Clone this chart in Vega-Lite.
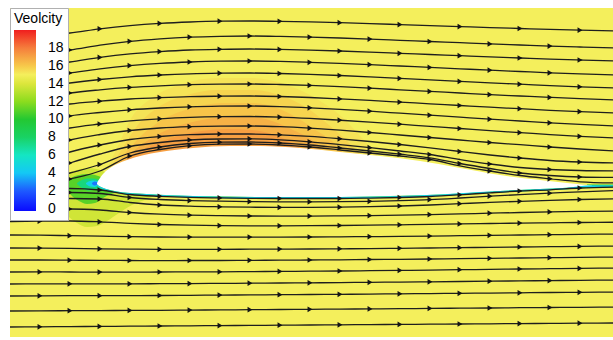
{
"$schema":"https://vega.github.io/schema/vega-lite/v6.json",
"width":603,"height":329,
"padding":{"left":10,"top":8,"right":0,"bottom":3},
"autosize":{"type":"none"},
"background":"white",
"config":{"view":{"stroke":null}},
"datasets":{
"bg":[{"x":-87,"x2":516,"y":-154,"y2":175,"v":15}],
"bands":[
{"b":"O1","v":15.3,"x":10,"y":14,"y2":0},{"b":"O1","v":15.3,"x":20,"y":35,"y2":0},{"b":"O1","v":15.3,"x":35,"y":66,"y2":0},{"b":"O1","v":15.3,"x":55,"y":85,"y2":0},{"b":"O1","v":15.3,"x":85,"y":99,"y2":0},{"b":"O1","v":15.3,"x":120,"y":105,"y2":0},{"b":"O1","v":15.3,"x":155,"y":105,"y2":0},{"b":"O1","v":15.3,"x":190,"y":98,"y2":0},{"b":"O1","v":15.3,"x":220,"y":84,"y2":0},{"b":"O1","v":15.3,"x":245,"y":66,"y2":0},{"b":"O1","v":15.3,"x":265,"y":45,"y2":0},{"b":"O1","v":15.3,"x":280,"y":29,"y2":0},
{"b":"O2","v":15.7,"x":14,"y":16,"y2":0},{"b":"O2","v":15.7,"x":25,"y":34,"y2":0},{"b":"O2","v":15.7,"x":40,"y":57,"y2":0},{"b":"O2","v":15.7,"x":60,"y":75,"y2":0},{"b":"O2","v":15.7,"x":90,"y":88,"y2":0},{"b":"O2","v":15.7,"x":120,"y":93,"y2":0},{"b":"O2","v":15.7,"x":155,"y":93,"y2":0},{"b":"O2","v":15.7,"x":185,"y":87,"y2":0},{"b":"O2","v":15.7,"x":210,"y":75,"y2":0},{"b":"O2","v":15.7,"x":232,"y":58,"y2":0},{"b":"O2","v":15.7,"x":250,"y":42,"y2":0},{"b":"O2","v":15.7,"x":262,"y":30,"y2":0},
{"b":"O3","v":16.1,"x":18,"y":18,"y2":0},{"b":"O3","v":16.1,"x":30,"y":32,"y2":0},{"b":"O3","v":16.1,"x":45,"y":48,"y2":0},{"b":"O3","v":16.1,"x":65,"y":63,"y2":0},{"b":"O3","v":16.1,"x":95,"y":75,"y2":0},{"b":"O3","v":16.1,"x":125,"y":80,"y2":0},{"b":"O3","v":16.1,"x":155,"y":80,"y2":0},{"b":"O3","v":16.1,"x":180,"y":75,"y2":0},{"b":"O3","v":16.1,"x":202,"y":64,"y2":0},{"b":"O3","v":16.1,"x":220,"y":52,"y2":0},{"b":"O3","v":16.1,"x":235,"y":42,"y2":0},{"b":"O3","v":16.1,"x":245,"y":32,"y2":0},
{"b":"O4","v":16.6,"x":22,"y":20,"y2":0},{"b":"O4","v":16.6,"x":35,"y":31,"y2":0},{"b":"O4","v":16.6,"x":50,"y":42,"y2":0},{"b":"O4","v":16.6,"x":70,"y":53,"y2":0},{"b":"O4","v":16.6,"x":100,"y":62,"y2":0},{"b":"O4","v":16.6,"x":130,"y":66,"y2":0},{"b":"O4","v":16.6,"x":155,"y":66,"y2":0},{"b":"O4","v":16.6,"x":178,"y":61,"y2":0},{"b":"O4","v":16.6,"x":196,"y":53,"y2":0},{"b":"O4","v":16.6,"x":212,"y":45,"y2":0},{"b":"O4","v":16.6,"x":224,"y":36,"y2":0},
{"b":"O5","v":17.1,"x":30,"y":25,"y2":0},{"b":"O5","v":17.1,"x":45,"y":33,"y2":0},{"b":"O5","v":17.1,"x":60,"y":40,"y2":0},{"b":"O5","v":17.1,"x":80,"y":47,"y2":0},{"b":"O5","v":17.1,"x":105,"y":52,"y2":0},{"b":"O5","v":17.1,"x":130,"y":54,"y2":0},{"b":"O5","v":17.1,"x":155,"y":53,"y2":0},{"b":"O5","v":17.1,"x":175,"y":49,"y2":0},{"b":"O5","v":17.1,"x":190,"y":43,"y2":0},{"b":"O5","v":17.1,"x":202,"y":37,"y2":0},
{"b":"G1","v":13.7,"x":-45,"y":-10,"y2":-10},{"b":"G1","v":13.7,"x":-38,"y":2,"y2":-22},{"b":"G1","v":13.7,"x":-30,"y":9,"y2":-32},{"b":"G1","v":13.7,"x":-20,"y":13,"y2":-40},{"b":"G1","v":13.7,"x":-10,"y":15,"y2":-44},{"b":"G1","v":13.7,"x":0,"y":14,"y2":-43},{"b":"G1","v":13.7,"x":10,"y":10,"y2":-38},{"b":"G1","v":13.7,"x":22,"y":4,"y2":-30},{"b":"G1","v":13.7,"x":35,"y":-2,"y2":-22},{"b":"G1","v":13.7,"x":50,"y":-8,"y2":-16},{"b":"G1","v":13.7,"x":60,"y":-12,"y2":-12},
{"b":"G2","v":11,"x":-32,"y":0,"y2":-4},{"b":"G2","v":11,"x":-26,"y":5,"y2":-12},{"b":"G2","v":11,"x":-18,"y":8,"y2":-18},{"b":"G2","v":11,"x":-10,"y":9,"y2":-21},{"b":"G2","v":11,"x":-2,"y":8,"y2":-20},{"b":"G2","v":11,"x":6,"y":5,"y2":-15},{"b":"G2","v":11,"x":14,"y":2,"y2":-11},{"b":"G2","v":11,"x":22,"y":-3,"y2":-9},{"b":"G2","v":11,"x":28,"y":-6,"y2":-8},
{"b":"G3","v":7.5,"x":-20,"y":0,"y2":-1},{"b":"G3","v":7.5,"x":-15,"y":3,"y2":-5},{"b":"G3","v":7.5,"x":-9,"y":4.5,"y2":-7.5},{"b":"G3","v":7.5,"x":-3,"y":4.5,"y2":-7},{"b":"G3","v":7.5,"x":2,"y":3,"y2":-5},{"b":"G3","v":7.5,"x":6,"y":0,"y2":-3},
{"b":"G4","v":4.5,"x":-11,"y":0,"y2":-1},{"b":"G4","v":4.5,"x":-7,"y":2,"y2":-3.5},{"b":"G4","v":4.5,"x":-3,"y":2.5,"y2":-4},{"b":"G4","v":4.5,"x":1,"y":1.5,"y2":-2.5},{"b":"G4","v":4.5,"x":3,"y":0,"y2":-1},
{"b":"G5","v":2.5,"x":-5,"y":0,"y2":-1},{"b":"G5","v":2.5,"x":-2.5,"y":1.5,"y2":-2.5},{"b":"G5","v":2.5,"x":0.5,"y":1,"y2":-1.5},
{"b":"BL","v":11,"x":2,"y":0,"y2":-4.5},{"b":"BL","v":11,"x":9,"y":0,"y2":-7.5},{"b":"BL","v":11,"x":20,"y":0,"y2":-10},{"b":"BL","v":11,"x":45,"y":0,"y2":-12.3},{"b":"BL","v":11,"x":96,"y":0,"y2":-14.5},{"b":"BL","v":11,"x":163,"y":0,"y2":-15.5},{"b":"BL","v":11,"x":243,"y":0,"y2":-15.5},{"b":"BL","v":11,"x":323,"y":0,"y2":-13.8},{"b":"BL","v":11,"x":403,"y":0,"y2":-9.5},{"b":"BL","v":11,"x":470,"y":-1,"y2":-6.3},{"b":"BL","v":11,"x":495,"y":-2.5,"y2":-4.5},
{"b":"WK","v":10,"x":490,"y":-1.5,"y2":-4.5},{"b":"WK","v":10,"x":520,"y":-1.5,"y2":-4.5},
{"b":"SF","v":4.5,"x":1,"y":-2.2,"y2":-3.7},{"b":"SF","v":4.5,"x":4,"y":-4,"y2":-5.5},{"b":"SF","v":4.5,"x":9,"y":-6,"y2":-7.5},{"b":"SF","v":4.5,"x":20,"y":-8.5,"y2":-10},{"b":"SF","v":4.5,"x":45,"y":-10.8,"y2":-12.3},{"b":"SF","v":4.5,"x":96,"y":-13,"y2":-14.5},{"b":"SF","v":4.5,"x":163,"y":-14,"y2":-15.5},{"b":"SF","v":4.5,"x":243,"y":-14,"y2":-15.5},{"b":"SF","v":4.5,"x":323,"y":-12.3,"y2":-13.8},{"b":"SF","v":4.5,"x":403,"y":-8,"y2":-9.5},{"b":"SF","v":4.5,"x":443,"y":-6,"y2":-7.5},{"b":"SF","v":4.5,"x":470,"y":-4.8,"y2":-6.3},{"b":"SF","v":4.5,"x":495,"y":-2.3,"y2":-4},{"b":"SF","v":4.5,"x":520,"y":-2.3,"y2":-3.8}
],
"foil":[
{"x":0,"y":-0.3,"y2":-0.7},{"x":1,"y":2,"y2":-2.2},{"x":2,"y":3.5,"y2":-3},{"x":4,"y":6.5,"y2":-4},{"x":6,"y":9,"y2":-5},{"x":9,"y":12,"y2":-6},{"x":13,"y":15,"y2":-7},{"x":20,"y":19,"y2":-8.5},{"x":30,"y":23,"y2":-9.7},{"x":45,"y":27.5,"y2":-10.8},{"x":63,"y":31,"y2":-11.7},{"x":96,"y":35,"y2":-13},{"x":133,"y":37,"y2":-13.5},{"x":163,"y":37,"y2":-14},{"x":203,"y":35,"y2":-14},{"x":243,"y":31,"y2":-14},{"x":283,"y":27,"y2":-13.3},{"x":323,"y":22,"y2":-12.3},{"x":363,"y":15,"y2":-10.5},{"x":403,"y":8,"y2":-8},{"x":443,"y":3,"y2":-6},{"x":470,"y":0,"y2":-4.8},{"x":495,"y":-2.5,"y2":-3}
],
"lines":[
{"l":1,"x":-87,"y":144},{"l":1,"x":-57,"y":147},{"l":1,"x":-27,"y":150},{"l":1,"x":3,"y":154.2},{"l":1,"x":33,"y":157.4},{"l":1,"x":63,"y":159.6},{"l":1,"x":93,"y":161},{"l":1,"x":123,"y":161.8},{"l":1,"x":153,"y":162},{"l":1,"x":183,"y":161.7},{"l":1,"x":213,"y":161.1},{"l":1,"x":243,"y":160.3},{"l":1,"x":273,"y":159.4},{"l":1,"x":303,"y":158.4},{"l":1,"x":333,"y":157.4},{"l":1,"x":363,"y":156.4},{"l":1,"x":393,"y":155.4},{"l":1,"x":423,"y":154.5},{"l":1,"x":453,"y":153.6},{"l":1,"x":483,"y":152.8},{"l":1,"x":520,"y":152},
{"l":2,"x":-87,"y":127},{"l":2,"x":-57,"y":130},{"l":2,"x":-27,"y":133},{"l":2,"x":3,"y":137.9},{"l":2,"x":33,"y":141.7},{"l":2,"x":63,"y":144.2},{"l":2,"x":93,"y":145.9},{"l":2,"x":123,"y":146.7},{"l":2,"x":153,"y":147},{"l":2,"x":183,"y":146.6},{"l":2,"x":213,"y":145.9},{"l":2,"x":243,"y":145},{"l":2,"x":273,"y":143.9},{"l":2,"x":303,"y":142.7},{"l":2,"x":333,"y":141.5},{"l":2,"x":363,"y":140.3},{"l":2,"x":393,"y":139.1},{"l":2,"x":423,"y":138},{"l":2,"x":453,"y":136.9},{"l":2,"x":483,"y":136},{"l":2,"x":520,"y":135},
{"l":3,"x":-87,"y":114},{"l":3,"x":-57,"y":117.5},{"l":3,"x":-27,"y":121},{"l":3,"x":3,"y":125.6},{"l":3,"x":33,"y":129.1},{"l":3,"x":63,"y":131.4},{"l":3,"x":93,"y":133},{"l":3,"x":123,"y":133.7},{"l":3,"x":153,"y":134},{"l":3,"x":183,"y":133.6},{"l":3,"x":213,"y":132.9},{"l":3,"x":243,"y":132},{"l":3,"x":273,"y":130.9},{"l":3,"x":303,"y":129.7},{"l":3,"x":333,"y":128.5},{"l":3,"x":363,"y":127.3},{"l":3,"x":393,"y":126.1},{"l":3,"x":423,"y":125},{"l":3,"x":453,"y":123.9},{"l":3,"x":483,"y":123},{"l":3,"x":520,"y":122},
{"l":4,"x":-87,"y":102},{"l":4,"x":-57,"y":106},{"l":4,"x":-27,"y":110},{"l":4,"x":3,"y":114.2},{"l":4,"x":33,"y":117.4},{"l":4,"x":63,"y":119.6},{"l":4,"x":93,"y":121},{"l":4,"x":123,"y":121.8},{"l":4,"x":153,"y":122},{"l":4,"x":183,"y":121.6},{"l":4,"x":213,"y":120.7},{"l":4,"x":243,"y":119.6},{"l":4,"x":273,"y":118.4},{"l":4,"x":303,"y":117},{"l":4,"x":333,"y":115.6},{"l":4,"x":363,"y":114.2},{"l":4,"x":393,"y":112.8},{"l":4,"x":423,"y":111.5},{"l":4,"x":453,"y":110.2},{"l":4,"x":483,"y":109.1},{"l":4,"x":520,"y":108},
{"l":5,"x":-87,"y":91},{"l":5,"x":-57,"y":95.5},{"l":5,"x":-27,"y":100},{"l":5,"x":3,"y":103.5},{"l":5,"x":33,"y":106.2},{"l":5,"x":63,"y":108},{"l":5,"x":93,"y":109.2},{"l":5,"x":123,"y":109.8},{"l":5,"x":153,"y":110},{"l":5,"x":183,"y":109.5},{"l":5,"x":213,"y":108.7},{"l":5,"x":243,"y":107.5},{"l":5,"x":273,"y":106.1},{"l":5,"x":303,"y":104.6},{"l":5,"x":333,"y":103.1},{"l":5,"x":363,"y":101.6},{"l":5,"x":393,"y":100.1},{"l":5,"x":423,"y":98.8},{"l":5,"x":453,"y":97.4},{"l":5,"x":483,"y":96.2},{"l":5,"x":520,"y":95},
{"l":6,"x":-87,"y":79},{"l":6,"x":-57,"y":84.5},{"l":6,"x":-27,"y":90},{"l":6,"x":3,"y":93.2},{"l":6,"x":33,"y":95.6},{"l":6,"x":63,"y":97.2},{"l":6,"x":93,"y":98.3},{"l":6,"x":123,"y":98.8},{"l":6,"x":153,"y":99},{"l":6,"x":183,"y":98.5},{"l":6,"x":213,"y":97.6},{"l":6,"x":243,"y":96.3},{"l":6,"x":273,"y":94.8},{"l":6,"x":303,"y":93.2},{"l":6,"x":333,"y":91.6},{"l":6,"x":363,"y":90},{"l":6,"x":393,"y":88.4},{"l":6,"x":423,"y":87},{"l":6,"x":453,"y":85.6},{"l":6,"x":483,"y":84.3},{"l":6,"x":520,"y":83},
{"l":7,"x":-87,"y":67},{"l":7,"x":-57,"y":73},{"l":7,"x":-27,"y":79},{"l":7,"x":3,"y":81.8},{"l":7,"x":33,"y":84},{"l":7,"x":63,"y":85.4},{"l":7,"x":93,"y":86.4},{"l":7,"x":123,"y":86.8},{"l":7,"x":153,"y":87},{"l":7,"x":183,"y":86.5},{"l":7,"x":213,"y":85.5},{"l":7,"x":243,"y":84.1},{"l":7,"x":273,"y":82.6},{"l":7,"x":303,"y":80.9},{"l":7,"x":333,"y":79.2},{"l":7,"x":363,"y":77.5},{"l":7,"x":393,"y":75.8},{"l":7,"x":423,"y":74.3},{"l":7,"x":453,"y":72.7},{"l":7,"x":483,"y":71.4},{"l":7,"x":520,"y":70},
{"l":8,"x":-87,"y":53},{"l":8,"x":-57,"y":60},{"l":8,"x":-27,"y":67},{"l":8,"x":3,"y":70.5},{"l":8,"x":33,"y":73.2},{"l":8,"x":63,"y":75},{"l":8,"x":93,"y":76.2},{"l":8,"x":123,"y":76.8},{"l":8,"x":153,"y":77},{"l":8,"x":183,"y":76.4},{"l":8,"x":213,"y":75.2},{"l":8,"x":243,"y":73.6},{"l":8,"x":273,"y":71.8},{"l":8,"x":303,"y":69.8},{"l":8,"x":333,"y":67.8},{"l":8,"x":363,"y":65.8},{"l":8,"x":393,"y":63.8},{"l":8,"x":423,"y":62},{"l":8,"x":453,"y":60.2},{"l":8,"x":483,"y":58.6},{"l":8,"x":520,"y":57},
{"l":9,"x":-87,"y":39},{"l":9,"x":-57,"y":47},{"l":9,"x":-27,"y":55},{"l":9,"x":3,"y":59},{"l":9,"x":33,"y":62.1},{"l":9,"x":63,"y":64.2},{"l":9,"x":93,"y":65.6},{"l":9,"x":123,"y":66.3},{"l":9,"x":153,"y":66.5},{"l":9,"x":183,"y":65.9},{"l":9,"x":213,"y":64.6},{"l":9,"x":243,"y":62.8},{"l":9,"x":273,"y":60.9},{"l":9,"x":303,"y":58.8},{"l":9,"x":333,"y":56.6},{"l":9,"x":363,"y":54.5},{"l":9,"x":393,"y":52.3},{"l":9,"x":423,"y":50.4},{"l":9,"x":453,"y":48.4},{"l":9,"x":483,"y":46.7},{"l":9,"x":520,"y":45},
{"l":10,"x":-87,"y":25},{"l":10,"x":-57,"y":34},{"l":10,"x":-27,"y":43},{"l":10,"x":3,"y":48.5},{"l":10,"x":33,"y":52.5},{"l":10,"x":63,"y":55},{"l":10,"x":93,"y":56.3},{"l":10,"x":123,"y":56.9},{"l":10,"x":153,"y":57},{"l":10,"x":183,"y":56.3},{"l":10,"x":213,"y":54.8},{"l":10,"x":243,"y":52.8},{"l":10,"x":273,"y":50.5},{"l":10,"x":303,"y":48},{"l":10,"x":333,"y":45.5},{"l":10,"x":363,"y":43},{"l":10,"x":393,"y":40.5},{"l":10,"x":423,"y":38.3},{"l":10,"x":453,"y":36},{"l":10,"x":483,"y":34},{"l":10,"x":520,"y":32},
{"l":11,"x":-87,"y":12},{"l":11,"x":-57,"y":21},{"l":11,"x":-27,"y":31},{"l":11,"x":3,"y":38},{"l":11,"x":33,"y":43.5},{"l":11,"x":63,"y":46.5},{"l":11,"x":93,"y":48.3},{"l":11,"x":123,"y":49},{"l":11,"x":153,"y":49},{"l":11,"x":183,"y":48.2},{"l":11,"x":213,"y":46.6},{"l":11,"x":243,"y":44.2},{"l":11,"x":273,"y":41.5},{"l":11,"x":303,"y":38.5},{"l":11,"x":333,"y":35.2},{"l":11,"x":363,"y":31.5},{"l":11,"x":393,"y":28},{"l":11,"x":423,"y":25},{"l":11,"x":453,"y":22.5},{"l":11,"x":483,"y":21},{"l":11,"x":520,"y":20},
{"l":12,"x":-87,"y":3},{"l":12,"x":-57,"y":10},{"l":12,"x":-27,"y":20},{"l":12,"x":3,"y":29},{"l":12,"x":33,"y":36.5},{"l":12,"x":63,"y":40.5},{"l":12,"x":93,"y":43},{"l":12,"x":123,"y":44},{"l":12,"x":153,"y":44.2},{"l":12,"x":183,"y":43.2},{"l":12,"x":213,"y":41.2},{"l":12,"x":243,"y":38.4},{"l":12,"x":273,"y":35.3},{"l":12,"x":303,"y":32},{"l":12,"x":333,"y":28.5},{"l":12,"x":363,"y":23.5},{"l":12,"x":393,"y":19},{"l":12,"x":423,"y":15.5},{"l":12,"x":453,"y":13.5},{"l":12,"x":483,"y":12.5},{"l":12,"x":520,"y":12},
{"l":13,"x":-87,"y":-2},{"l":13,"x":-57,"y":2},{"l":13,"x":-27,"y":10},{"l":13,"x":3,"y":18.5},{"l":13,"x":33,"y":30},{"l":13,"x":63,"y":36},{"l":13,"x":93,"y":39.5},{"l":13,"x":123,"y":40.8},{"l":13,"x":153,"y":41},{"l":13,"x":183,"y":40},{"l":13,"x":213,"y":38},{"l":13,"x":243,"y":35},{"l":13,"x":273,"y":32},{"l":13,"x":303,"y":28.8},{"l":13,"x":333,"y":25.2},{"l":13,"x":363,"y":19.5},{"l":13,"x":393,"y":14.5},{"l":13,"x":423,"y":10},{"l":13,"x":453,"y":7.5},{"l":13,"x":483,"y":6},{"l":13,"x":520,"y":5.5},
{"l":14,"x":-87,"y":-4},{"l":14,"x":-57,"y":-2},{"l":14,"x":-27,"y":4},{"l":14,"x":3,"y":12},{"l":14,"x":33,"y":27},{"l":14,"x":63,"y":33.5},{"l":14,"x":93,"y":37.3},{"l":14,"x":123,"y":38.8},{"l":14,"x":153,"y":39},{"l":14,"x":183,"y":38},{"l":14,"x":213,"y":36},{"l":14,"x":243,"y":33},{"l":14,"x":273,"y":30},{"l":14,"x":303,"y":27},{"l":14,"x":333,"y":23.5},{"l":14,"x":363,"y":17.2},{"l":14,"x":393,"y":12},{"l":14,"x":423,"y":7.5},{"l":14,"x":453,"y":4.2},{"l":14,"x":483,"y":1.2},{"l":14,"x":520,"y":0},
{"l":15,"x":-87,"y":-7},{"l":15,"x":-57,"y":-6.5},{"l":15,"x":-27,"y":-5.5},{"l":15,"x":3,"y":-7},{"l":15,"x":33,"y":-11.5},{"l":15,"x":63,"y":-13.3},{"l":15,"x":93,"y":-14.4},{"l":15,"x":123,"y":-14.9},{"l":15,"x":153,"y":-15.3},{"l":15,"x":183,"y":-15.5},{"l":15,"x":213,"y":-15.5},{"l":15,"x":243,"y":-15.5},{"l":15,"x":273,"y":-15.1},{"l":15,"x":303,"y":-14.5},{"l":15,"x":333,"y":-13.5},{"l":15,"x":363,"y":-11.8},{"l":15,"x":393,"y":-9.8},{"l":15,"x":423,"y":-8},{"l":15,"x":453,"y":-6.8},{"l":15,"x":483,"y":-5},{"l":15,"x":520,"y":-4},
{"l":16,"x":-87,"y":-12},{"l":16,"x":-57,"y":-11},{"l":16,"x":-27,"y":-9.5},{"l":16,"x":3,"y":-10.5},{"l":16,"x":33,"y":-14.5},{"l":16,"x":63,"y":-16.5},{"l":16,"x":93,"y":-17.6},{"l":16,"x":123,"y":-18.2},{"l":16,"x":153,"y":-18.6},{"l":16,"x":183,"y":-18.8},{"l":16,"x":213,"y":-18.8},{"l":16,"x":243,"y":-18.7},{"l":16,"x":273,"y":-18.3},{"l":16,"x":303,"y":-17.6},{"l":16,"x":333,"y":-16.6},{"l":16,"x":363,"y":-15},{"l":16,"x":393,"y":-13.2},{"l":16,"x":423,"y":-11.6},{"l":16,"x":453,"y":-10.2},{"l":16,"x":483,"y":-8.8},{"l":16,"x":520,"y":-7.5},
{"l":17,"x":-87,"y":-18},{"l":17,"x":-57,"y":-17},{"l":17,"x":-27,"y":-15.5},{"l":17,"x":3,"y":-16},{"l":17,"x":33,"y":-19.5},{"l":17,"x":63,"y":-22},{"l":17,"x":93,"y":-23.2},{"l":17,"x":123,"y":-23.8},{"l":17,"x":153,"y":-24.2},{"l":17,"x":183,"y":-24.4},{"l":17,"x":213,"y":-24.4},{"l":17,"x":243,"y":-24.2},{"l":17,"x":273,"y":-23.7},{"l":17,"x":303,"y":-23},{"l":17,"x":333,"y":-22},{"l":17,"x":363,"y":-20.7},{"l":17,"x":393,"y":-19.4},{"l":17,"x":423,"y":-18.3},{"l":17,"x":453,"y":-17.3},{"l":17,"x":483,"y":-16.5},{"l":17,"x":520,"y":-15.8},
{"l":18,"x":-87,"y":-27},{"l":18,"x":-57,"y":-26.5},{"l":18,"x":-27,"y":-26},{"l":18,"x":3,"y":-27},{"l":18,"x":33,"y":-29.5},{"l":18,"x":63,"y":-31.2},{"l":18,"x":93,"y":-32.2},{"l":18,"x":123,"y":-32.7},{"l":18,"x":153,"y":-33},{"l":18,"x":183,"y":-33.1},{"l":18,"x":213,"y":-33.1},{"l":18,"x":243,"y":-32.9},{"l":18,"x":273,"y":-32.6},{"l":18,"x":303,"y":-32.2},{"l":18,"x":333,"y":-31.6},{"l":18,"x":363,"y":-30.9},{"l":18,"x":393,"y":-30.2},{"l":18,"x":423,"y":-29.5},{"l":18,"x":453,"y":-28.9},{"l":18,"x":483,"y":-28.4},{"l":18,"x":520,"y":-28},
{"l":19,"x":-87,"y":-38.5},{"l":19,"x":-57,"y":-38.2},{"l":19,"x":-27,"y":-38},{"l":19,"x":3,"y":-38.8},{"l":19,"x":33,"y":-40.3},{"l":19,"x":63,"y":-41.5},{"l":19,"x":93,"y":-42.2},{"l":19,"x":123,"y":-42.6},{"l":19,"x":153,"y":-42.8},{"l":19,"x":183,"y":-42.8},{"l":19,"x":213,"y":-42.7},{"l":19,"x":243,"y":-42.5},{"l":19,"x":273,"y":-42.2},{"l":19,"x":303,"y":-41.8},{"l":19,"x":333,"y":-41.4},{"l":19,"x":363,"y":-40.9},{"l":19,"x":393,"y":-40.5},{"l":19,"x":423,"y":-40.1},{"l":19,"x":453,"y":-39.8},{"l":19,"x":483,"y":-39.5},{"l":19,"x":520,"y":-39.2},
{"l":20,"x":-87,"y":-52},{"l":20,"x":-57,"y":-52.2},{"l":20,"x":-27,"y":-52.7},{"l":20,"x":3,"y":-53.2},{"l":20,"x":33,"y":-53.7},{"l":20,"x":63,"y":-54},{"l":20,"x":93,"y":-54.1},{"l":20,"x":123,"y":-54.2},{"l":20,"x":153,"y":-54.1},{"l":20,"x":183,"y":-54.1},{"l":20,"x":213,"y":-54},{"l":20,"x":243,"y":-53.8},{"l":20,"x":273,"y":-53.6},{"l":20,"x":303,"y":-53.4},{"l":20,"x":333,"y":-53.1},{"l":20,"x":363,"y":-52.7},{"l":20,"x":393,"y":-52.3},{"l":20,"x":423,"y":-52},{"l":20,"x":453,"y":-51.7},{"l":20,"x":483,"y":-51.4},{"l":20,"x":520,"y":-51},
{"l":21,"x":-87,"y":-65},{"l":21,"x":-57,"y":-65.1},{"l":21,"x":-27,"y":-65.4},{"l":21,"x":3,"y":-65.8},{"l":21,"x":33,"y":-66.1},{"l":21,"x":63,"y":-66.3},{"l":21,"x":93,"y":-66.3},{"l":21,"x":123,"y":-66.3},{"l":21,"x":153,"y":-66.2},{"l":21,"x":183,"y":-66.1},{"l":21,"x":213,"y":-66},{"l":21,"x":243,"y":-65.8},{"l":21,"x":273,"y":-65.6},{"l":21,"x":303,"y":-65.3},{"l":21,"x":333,"y":-65},{"l":21,"x":363,"y":-64.7},{"l":21,"x":393,"y":-64.3},{"l":21,"x":423,"y":-64},{"l":21,"x":453,"y":-63.7},{"l":21,"x":483,"y":-63.4},{"l":21,"x":520,"y":-63},
{"l":22,"x":-87,"y":-77},{"l":22,"x":-57,"y":-77},{"l":22,"x":-27,"y":-77.2},{"l":22,"x":3,"y":-77.4},{"l":22,"x":33,"y":-77.5},{"l":22,"x":63,"y":-77.6},{"l":22,"x":93,"y":-77.5},{"l":22,"x":123,"y":-77.5},{"l":22,"x":153,"y":-77.3},{"l":22,"x":183,"y":-77.2},{"l":22,"x":213,"y":-77},{"l":22,"x":243,"y":-76.8},{"l":22,"x":273,"y":-76.5},{"l":22,"x":303,"y":-76.3},{"l":22,"x":333,"y":-76},{"l":22,"x":363,"y":-75.6},{"l":22,"x":393,"y":-75.3},{"l":22,"x":423,"y":-75},{"l":22,"x":453,"y":-74.7},{"l":22,"x":483,"y":-74.4},{"l":22,"x":520,"y":-74},
{"l":23,"x":-87,"y":-89},{"l":23,"x":-57,"y":-88.9},{"l":23,"x":-27,"y":-89},{"l":23,"x":3,"y":-89.1},{"l":23,"x":33,"y":-89.1},{"l":23,"x":63,"y":-89},{"l":23,"x":93,"y":-88.9},{"l":23,"x":123,"y":-88.8},{"l":23,"x":153,"y":-88.6},{"l":23,"x":183,"y":-88.4},{"l":23,"x":213,"y":-88.2},{"l":23,"x":243,"y":-88},{"l":23,"x":273,"y":-87.7},{"l":23,"x":303,"y":-87.4},{"l":23,"x":333,"y":-87.1},{"l":23,"x":363,"y":-86.7},{"l":23,"x":393,"y":-86.4},{"l":23,"x":423,"y":-86},{"l":23,"x":453,"y":-85.7},{"l":23,"x":483,"y":-85.4},{"l":23,"x":520,"y":-85},
{"l":24,"x":-87,"y":-101},{"l":24,"x":-57,"y":-100.9},{"l":24,"x":-27,"y":-100.8},{"l":24,"x":3,"y":-100.8},{"l":24,"x":33,"y":-100.8},{"l":24,"x":63,"y":-100.7},{"l":24,"x":93,"y":-100.6},{"l":24,"x":123,"y":-100.4},{"l":24,"x":153,"y":-100.2},{"l":24,"x":183,"y":-100},{"l":24,"x":213,"y":-99.8},{"l":24,"x":243,"y":-99.6},{"l":24,"x":273,"y":-99.3},{"l":24,"x":303,"y":-99.1},{"l":24,"x":333,"y":-98.8},{"l":24,"x":363,"y":-98.5},{"l":24,"x":393,"y":-98.2},{"l":24,"x":423,"y":-97.9},{"l":24,"x":453,"y":-97.6},{"l":24,"x":483,"y":-97.3},{"l":24,"x":520,"y":-97},
{"l":25,"x":-87,"y":-113},{"l":25,"x":-57,"y":-112.8},{"l":25,"x":-27,"y":-112.7},{"l":25,"x":3,"y":-112.7},{"l":25,"x":33,"y":-112.6},{"l":25,"x":63,"y":-112.5},{"l":25,"x":93,"y":-112.3},{"l":25,"x":123,"y":-112.1},{"l":25,"x":153,"y":-111.9},{"l":25,"x":183,"y":-111.7},{"l":25,"x":213,"y":-111.5},{"l":25,"x":243,"y":-111.3},{"l":25,"x":273,"y":-111.1},{"l":25,"x":303,"y":-110.8},{"l":25,"x":333,"y":-110.6},{"l":25,"x":363,"y":-110.3},{"l":25,"x":393,"y":-110.1},{"l":25,"x":423,"y":-109.8},{"l":25,"x":453,"y":-109.5},{"l":25,"x":483,"y":-109.3},{"l":25,"x":520,"y":-109},
{"l":26,"x":-87,"y":-128},{"l":26,"x":-57,"y":-127.8},{"l":26,"x":-27,"y":-127.7},{"l":26,"x":3,"y":-127.6},{"l":26,"x":33,"y":-127.4},{"l":26,"x":63,"y":-127.3},{"l":26,"x":93,"y":-127.1},{"l":26,"x":123,"y":-126.9},{"l":26,"x":153,"y":-126.7},{"l":26,"x":183,"y":-126.5},{"l":26,"x":213,"y":-126.3},{"l":26,"x":243,"y":-126.1},{"l":26,"x":273,"y":-125.9},{"l":26,"x":303,"y":-125.7},{"l":26,"x":333,"y":-125.4},{"l":26,"x":363,"y":-125.2},{"l":26,"x":393,"y":-125},{"l":26,"x":423,"y":-124.7},{"l":26,"x":453,"y":-124.5},{"l":26,"x":483,"y":-124.3},{"l":26,"x":520,"y":-124},
{"l":27,"x":-87,"y":-144},{"l":27,"x":-57,"y":-143.8},{"l":27,"x":-27,"y":-143.6},{"l":27,"x":3,"y":-143.4},{"l":27,"x":33,"y":-143.2},{"l":27,"x":63,"y":-143},{"l":27,"x":93,"y":-142.8},{"l":27,"x":123,"y":-142.6},{"l":27,"x":153,"y":-142.4},{"l":27,"x":183,"y":-142.2},{"l":27,"x":213,"y":-142},{"l":27,"x":243,"y":-141.8},{"l":27,"x":273,"y":-141.6},{"l":27,"x":303,"y":-141.4},{"l":27,"x":333,"y":-141.2},{"l":27,"x":363,"y":-141},{"l":27,"x":393,"y":-140.8},{"l":27,"x":423,"y":-140.6},{"l":27,"x":453,"y":-140.4},{"l":27,"x":483,"y":-140.2},{"l":27,"x":520,"y":-140}
]
},
"encoding":{
"x":{"field":"x","type":"quantitative","scale":{"domain":[-87,516],"nice":false,"zero":false},"axis":null},
"y":{"field":"y","type":"quantitative","scale":{"domain":[-154,175],"nice":false,"zero":false},"axis":null}
},
"layer":[
{"data":{"name":"bg"},"mark":{"type":"rect"},"encoding":{"x2":{"field":"x2"},"y2":{"field":"y2"},"color":{"field":"v","type":"quantitative","title":"Veolcity","scale":{"domain":[-0.25,2,4,6,8,10,12,14,15,16,18,20],"range":["#0a0aff","#1e5aff","#14c8f5","#14e6c3","#19d264","#23c832","#8cdc1e","#dce63c","#f4ef5c","#f7c84a","#f57d3c","#f01e1e"],"interpolate":"rgb"},"legend":{"type":"gradient","direction":"vertical","orient":"top-left","offset":0,"values":[0,2,4,6,8,10,12,14,16,18],"zindex":1,"fillColor":"white","strokeColor":"#b0b0b0","padding":4,"titleFont":"Liberation Sans","titleFontSize":14,"titleFontWeight":"normal","titleColor":"#000","titlePadding":4,"titleAnchor":"start","labelFont":"Liberation Sans","labelFontSize":14,"labelColor":"#000","labelOffset":12,"labelAlign":"left","labelOverlap":false,"gradientLength":181,"gradientThickness":22,"gradientStrokeWidth":0}}}},
{"data":{"name":"bands"},"transform":[{"filter":"datum.b == 'O1'"}],"mark":{"type":"area","interpolate":"monotone","clip":true},"encoding":{"y":{"field":"y","type":"quantitative","stack":null},"y2":{"field":"y2"},"color":{"field":"v","type":"quantitative","title":"Veolcity"}}},
{"data":{"name":"bands"},"transform":[{"filter":"datum.b == 'O2'"}],"mark":{"type":"area","interpolate":"monotone","clip":true},"encoding":{"y":{"field":"y","type":"quantitative","stack":null},"y2":{"field":"y2"},"color":{"field":"v","type":"quantitative","title":"Veolcity"}}},
{"data":{"name":"bands"},"transform":[{"filter":"datum.b == 'O3'"}],"mark":{"type":"area","interpolate":"monotone","clip":true},"encoding":{"y":{"field":"y","type":"quantitative","stack":null},"y2":{"field":"y2"},"color":{"field":"v","type":"quantitative","title":"Veolcity"}}},
{"data":{"name":"bands"},"transform":[{"filter":"datum.b == 'O4'"}],"mark":{"type":"area","interpolate":"monotone","clip":true},"encoding":{"y":{"field":"y","type":"quantitative","stack":null},"y2":{"field":"y2"},"color":{"field":"v","type":"quantitative","title":"Veolcity"}}},
{"data":{"name":"bands"},"transform":[{"filter":"datum.b == 'O5'"}],"mark":{"type":"area","interpolate":"monotone","clip":true},"encoding":{"y":{"field":"y","type":"quantitative","stack":null},"y2":{"field":"y2"},"color":{"field":"v","type":"quantitative","title":"Veolcity"}}},
{"data":{"name":"bands"},"transform":[{"filter":"datum.b == 'G1'"}],"mark":{"type":"area","interpolate":"monotone","clip":true},"encoding":{"y":{"field":"y","type":"quantitative","stack":null},"y2":{"field":"y2"},"color":{"field":"v","type":"quantitative","title":"Veolcity"}}},
{"data":{"name":"bands"},"transform":[{"filter":"datum.b == 'G2'"}],"mark":{"type":"area","interpolate":"monotone","clip":true},"encoding":{"y":{"field":"y","type":"quantitative","stack":null},"y2":{"field":"y2"},"color":{"field":"v","type":"quantitative","title":"Veolcity"}}},
{"data":{"name":"bands"},"transform":[{"filter":"datum.b == 'G3'"}],"mark":{"type":"area","interpolate":"monotone","clip":true},"encoding":{"y":{"field":"y","type":"quantitative","stack":null},"y2":{"field":"y2"},"color":{"field":"v","type":"quantitative","title":"Veolcity"}}},
{"data":{"name":"bands"},"transform":[{"filter":"datum.b == 'G4'"}],"mark":{"type":"area","interpolate":"monotone","clip":true},"encoding":{"y":{"field":"y","type":"quantitative","stack":null},"y2":{"field":"y2"},"color":{"field":"v","type":"quantitative","title":"Veolcity"}}},
{"data":{"name":"bands"},"transform":[{"filter":"datum.b == 'G5'"}],"mark":{"type":"area","interpolate":"monotone","clip":true},"encoding":{"y":{"field":"y","type":"quantitative","stack":null},"y2":{"field":"y2"},"color":{"field":"v","type":"quantitative","title":"Veolcity"}}},
{"data":{"name":"bands"},"transform":[{"filter":"datum.b == 'BL'"}],"mark":{"type":"area","interpolate":"monotone","clip":true},"encoding":{"y":{"field":"y","type":"quantitative","stack":null},"y2":{"field":"y2"},"color":{"field":"v","type":"quantitative","title":"Veolcity"}}},
{"data":{"name":"bands"},"transform":[{"filter":"datum.b == 'WK'"}],"mark":{"type":"area","interpolate":"monotone","clip":true},"encoding":{"y":{"field":"y","type":"quantitative","stack":null},"y2":{"field":"y2"},"color":{"field":"v","type":"quantitative","title":"Veolcity"}}},
{"data":{"name":"foil"},"mark":{"type":"area","interpolate":"monotone","fill":"white","clip":true},"encoding":{"y":{"field":"y","type":"quantitative","stack":null},"y2":{"field":"y2"}}},
{"data":{"name":"bands"},"transform":[{"filter":"datum.b == 'SF'"}],"mark":{"type":"area","interpolate":"monotone","clip":true},"encoding":{"y":{"field":"y","type":"quantitative","stack":null},"y2":{"field":"y2"},"color":{"field":"v","type":"quantitative","title":"Veolcity"}}},
{"data":{"name":"lines"},"mark":{"type":"line","interpolate":"monotone","stroke":"#1e1e1e","strokeWidth":1.3,"clip":true},"encoding":{"detail":{"field":"l","type":"nominal"}}},
{"data":{"name":"lines"},"transform":[{"filter":"datum.x > -80 && datum.x < 500 && ((datum.x + 87) / 30 + datum.l) % 2 == 0"}],"mark":{"type":"point","shape":"triangle-right","filled":true,"color":"#141414","opacity":1,"size":32,"clip":true},"encoding":{}}
]
}
